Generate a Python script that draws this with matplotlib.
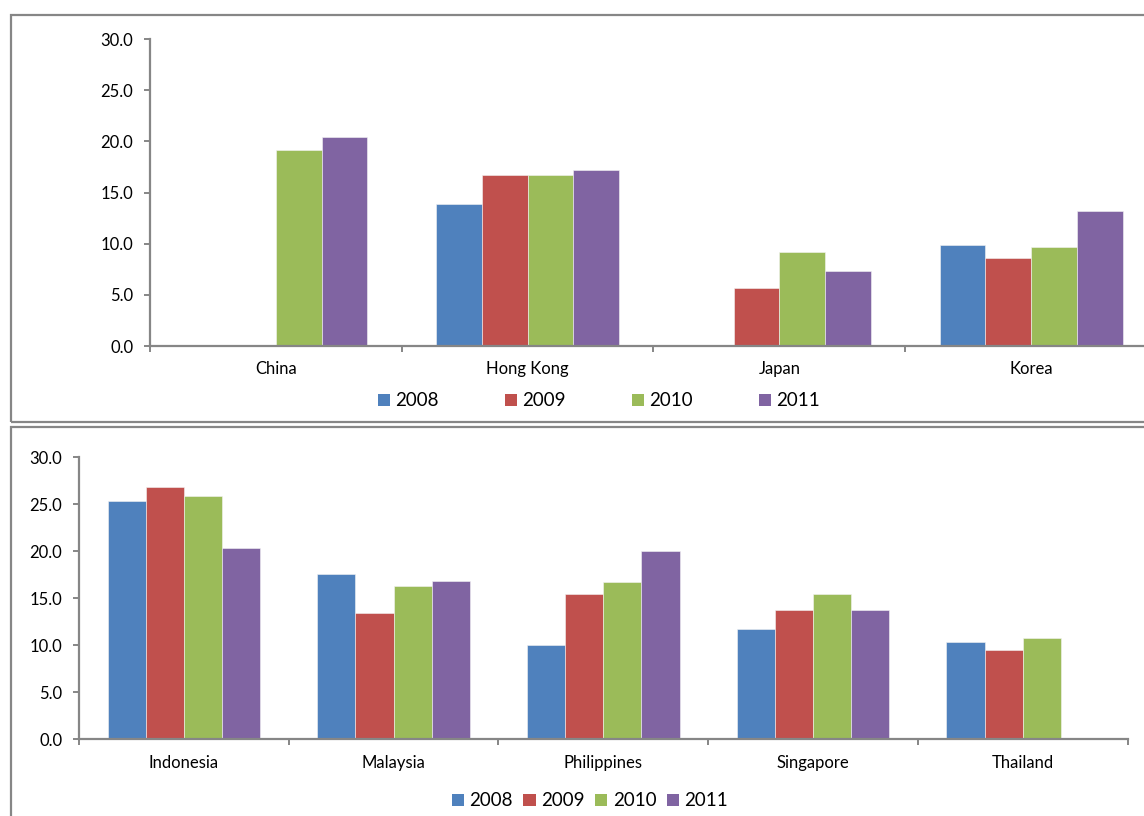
import numpy as np
import matplotlib
matplotlib.use("Agg")
import matplotlib.pyplot as plt
from matplotlib.patches import Rectangle, Patch

plt.rcParams['font.family'] = ['Lato', 'DejaVu Sans']

years = ['2008', '2009', '2010', '2011']
colors = ['#4F81BD', '#C0504D', '#9BBB59', '#8064A2']

# top panel: North / East Asia
north_countries = ['China', 'Hong Kong', 'Japan', 'Korea']
north_2008 = [np.nan, 13.9, np.nan, 9.9]
north_2009 = [np.nan, 16.7, 5.7, 8.6]
north_2010 = [19.2, 16.7, 9.2, 9.7]
north_2011 = [20.4, 17.2, 7.3, 13.2]

# bottom panel: South-East Asia
south_countries = ['Indonesia', 'Malaysia', 'Philippines', 'Singapore', 'Thailand']
south_2008 = [25.3, 17.6, 10.0, 11.7, 10.3]
south_2009 = [26.8, 13.4, 15.5, 13.8, 9.5]
south_2010 = [25.9, 16.3, 16.7, 15.5, 10.8]
south_2011 = [20.3, 16.8, 20.0, 13.8, np.nan]

W, H = 1144, 816
GREY = '#868686'


def fx(px):
    return px / W


def fy(py):
    return 1 - py / H


def draw_panel(ax, countries, series):
    n = len(countries)
    x = np.arange(n)
    w = 1 / 5.5  # excel gap width 150%
    for i, (vals, c) in enumerate(zip(series, colors)):
        ax.bar(x + (i - 1.5) * w, vals, width=w, color=c,
               edgecolor='#f4f4f4', linewidth=0.4, zorder=2)
    ax.set_xlim(-0.5, n - 0.5)
    ax.set_ylim(0, 30)
    ax.set_yticks(np.arange(0, 31, 5))
    ax.set_yticklabels([f'{v:.1f}' for v in np.arange(0, 31, 5)])
    ax.set_xticks(x)
    ax.set_xticklabels(countries)
    ax.set_xticks(np.arange(-0.5, n, 1), minor=True)
    ax.tick_params(axis='x', which='major', length=0, pad=11, labelsize=12)
    ax.tick_params(axis='x', which='minor', length=4, width=1.4, color=GREY, direction='out')
    ax.tick_params(axis='y', length=4, width=1.4, color=GREY, direction='out', pad=8, labelsize=12)
    for s in ['top', 'right']:
        ax.spines[s].set_visible(False)
    for s in ['left', 'bottom']:
        ax.spines[s].set_color(GREY)
        ax.spines[s].set_linewidth(1.6)


fig = plt.figure(figsize=(W / 100, H / 100), dpi=100)

# panel frames
fig.add_artist(Rectangle((fx(11), fy(422)), 1.0, (422 - 15) / H, transform=fig.transFigure,
                         fill=False, edgecolor=GREY, linewidth=1.6, clip_on=False))
fig.add_artist(Rectangle((fx(11), -0.05), 1.0, fy(427) + 0.05, transform=fig.transFigure,
                         fill=False, edgecolor=GREY, linewidth=1.6, clip_on=False))

ax1 = fig.add_axes([fx(150), fy(346), fx(1157 - 150), (346 - 39) / H])
draw_panel(ax1, north_countries, [north_2008, north_2009, north_2010, north_2011])

ax2 = fig.add_axes([fx(79), fy(739.3), fx(1127.5 - 79), (739.3 - 457.3) / H])
draw_panel(ax2, south_countries, [south_2008, south_2009, south_2010, south_2011])

handles = [Patch(facecolor=c, edgecolor='none') for c in colors]
fig.legend(handles, years, loc='center', bbox_to_anchor=(fx(599), fy(401)), ncol=4,
           frameon=False, fontsize=13.5, handlelength=0.65, handleheight=0.65,
           handletextpad=0.3, columnspacing=3.5)
fig.legend(handles, years, loc='center', bbox_to_anchor=(fx(590), fy(801)), ncol=4,
           frameon=False, fontsize=13.5, handlelength=0.65, handleheight=0.65,
           handletextpad=0.3, columnspacing=0.55)

fig.savefig('out.png', dpi=100)
